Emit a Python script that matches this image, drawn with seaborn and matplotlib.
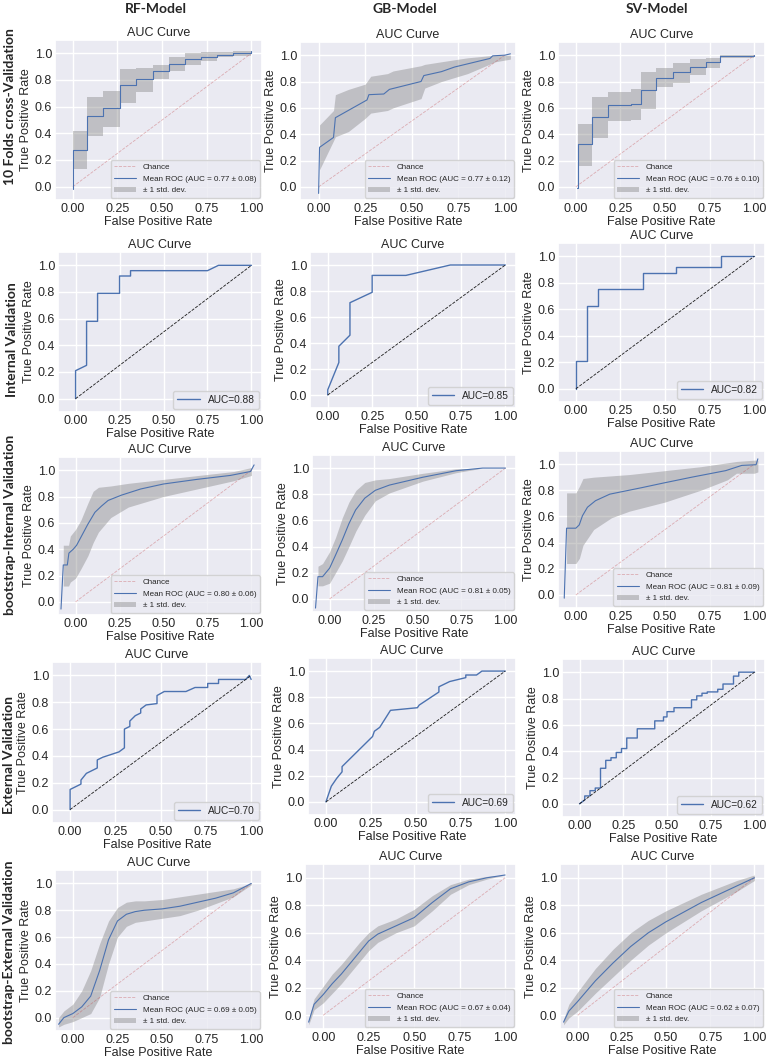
import matplotlib
matplotlib.use("Agg")
import matplotlib.pyplot as plt
import seaborn as sns

# --- titles ---
models = ["RF-Model", "GB-Model", "SV-Model"]
row_names = ["10 Folds cross-Validation", "Internal Validation",
             "bootstrap-Internal Validation", "External Validation",
             "bootstrap-External Validation"]

# --- row 1: 10 folds CV (mean ROC + band) ---
cv_rf_x = [0.0, 0.0, 0.08, 0.17, 0.265, 0.355, 0.45, 0.54, 0.63, 0.72, 0.81, 0.90, 1.0]
cv_rf_y = [-0.02, 0.275, 0.53, 0.59, 0.76, 0.81, 0.865, 0.92, 0.955, 0.975, 0.99, 1.0, 1.02]
cv_rf_bx = [0.0, 0.08, 0.17, 0.265, 0.355, 0.45, 0.54, 0.63, 0.72, 0.81, 0.90, 1.0]
cv_rf_hi = [0.42, 0.67, 0.72, 0.88, 0.89, 0.91, 0.97, 1.0, 1.01, 1.01, 1.02, 1.02]
cv_rf_lo = [0.13, 0.38, 0.45, 0.63, 0.71, 0.81, 0.87, 0.91, 0.94, 0.97, 0.98, 1.0]

cv_gb_x = [0.0, 0.005, 0.08, 0.09, 0.26, 0.27, 0.35, 0.38, 0.55, 0.565, 0.66, 0.73, 0.92, 0.935, 1.0, 1.03]
cv_gb_y = [-0.05, 0.30, 0.375, 0.525, 0.66, 0.70, 0.705, 0.74, 0.80, 0.845, 0.875, 0.91, 0.975, 0.995, 1.0, 1.01]
cv_gb_bx = [0.005, 0.08, 0.09, 0.16, 0.25, 0.28, 0.37, 0.40, 0.55, 0.57, 0.66, 0.80, 0.95, 1.03]
cv_gb_hi = [0.47, 0.58, 0.70, 0.74, 0.78, 0.84, 0.86, 0.88, 0.92, 0.93, 0.95, 0.98, 1.0, 1.0]
cv_gb_lo = [0.13, 0.35, 0.38, 0.42, 0.52, 0.56, 0.58, 0.60, 0.67, 0.75, 0.80, 0.86, 0.95, 0.97]

cv_sv_x = [0.005, 0.01, 0.09, 0.18, 0.31, 0.365, 0.45, 0.545, 0.64, 0.73, 0.81, 1.0]
cv_sv_y = [-0.01, 0.325, 0.53, 0.62, 0.63, 0.735, 0.83, 0.87, 0.91, 0.945, 0.99, 1.0]
cv_sv_bx = [0.01, 0.09, 0.18, 0.31, 0.365, 0.45, 0.545, 0.64, 0.73, 0.81, 1.0]
cv_sv_hi = [0.48, 0.68, 0.72, 0.74, 0.87, 0.90, 0.94, 0.97, 0.98, 1.0, 1.0]
cv_sv_lo = [0.16, 0.37, 0.50, 0.51, 0.59, 0.76, 0.79, 0.85, 0.90, 0.98, 0.98]
cv_auc = ["0.77 ± 0.08", "0.77 ± 0.12", "0.76 ± 0.10"]

# --- row 2: internal validation ROC ---
int_rf_fpr = [0, 0, 0.0625, 0.0625, 0.125, 0.125, 0.25, 0.25, 0.3125, 0.3125, 0.75, 0.8125, 1]
int_rf_tpr = [0, 0.21, 0.25, 0.58, 0.58, 0.79, 0.79, 0.92, 0.92, 0.96, 0.96, 1.0, 1]
int_gb_fpr = [0, 0, 0.0625, 0.0625, 0.125, 0.125, 0.25, 0.25, 0.44, 0.69, 1]
int_gb_tpr = [0, 0.04, 0.25, 0.375, 0.46, 0.71, 0.79, 0.92, 0.92, 1.0, 1]
int_sv_fpr = [0, 0, 0.0625, 0.0625, 0.125, 0.125, 0.375, 0.375, 0.5625, 0.5625, 0.8125, 0.8125, 1]
int_sv_tpr = [0, 0.21, 0.21, 0.625, 0.625, 0.75, 0.75, 0.875, 0.875, 0.92, 0.92, 1.0, 1]
int_auc = ["0.88", "0.85", "0.82"]

# --- row 3: bootstrap internal ---
bi_rf_x = [-0.083, -0.07, -0.047, -0.038, -0.013, 0.006, 0.034, 0.07, 0.11, 0.147, 0.185, 0.26, 0.37, 0.5, 0.69, 0.88, 0.995, 1.015]
bi_rf_y = [-0.055, 0.28, 0.28, 0.37, 0.40, 0.43, 0.50, 0.59, 0.68, 0.727, 0.77, 0.81, 0.857, 0.895, 0.93, 0.96, 0.99, 1.04]
bi_rf_bx = [-0.07, -0.04, -0.03, 0.0, 0.03, 0.07, 0.10, 0.13, 0.2, 0.3, 0.5, 0.7, 0.9, 1.0]
bi_rf_hi = [0.43, 0.43, 0.50, 0.55, 0.62, 0.75, 0.84, 0.87, 0.88, 0.90, 0.93, 0.96, 0.99, 1.02]
bi_rf_lo = [0.12, 0.12, 0.15, 0.18, 0.25, 0.35, 0.45, 0.53, 0.64, 0.72, 0.80, 0.86, 0.92, 0.96]

bi_gb_x = [-0.08, -0.066, -0.04, 0.0, 0.034, 0.072, 0.11, 0.148, 0.2, 0.26, 0.34, 0.53, 0.72, 0.87, 1.0]
bi_gb_y = [-0.07, 0.17, 0.17, 0.235, 0.335, 0.45, 0.575, 0.68, 0.77, 0.83, 0.87, 0.93, 0.98, 1.0, 1.0]
bi_gb_bx = [-0.066, -0.04, 0.0, 0.034, 0.072, 0.11, 0.15, 0.2, 0.26, 0.34, 0.53, 0.72, 0.87, 1.0]
bi_gb_hi = [0.25, 0.27, 0.36, 0.47, 0.62, 0.74, 0.83, 0.89, 0.91, 0.92, 0.96, 0.995, 1.0, 1.0]
bi_gb_lo = [0.10, 0.10, 0.12, 0.20, 0.29, 0.40, 0.52, 0.64, 0.75, 0.81, 0.90, 0.965, 1.0, 1.0]

bi_sv_x = [-0.065, -0.052, 0.0, 0.019, 0.037, 0.065, 0.11, 0.19, 0.37, 0.49, 0.65, 0.84, 0.93, 1.01, 1.02]
bi_sv_y = [-0.025, 0.51, 0.51, 0.535, 0.605, 0.67, 0.72, 0.77, 0.82, 0.855, 0.90, 0.95, 0.99, 0.995, 1.04]
bi_sv_bx = [-0.052, 0.0, 0.02, 0.04, 0.07, 0.1, 0.2, 0.3, 0.5, 0.7, 0.85, 0.9, 1.0, 1.02]
bi_sv_hi = [0.78, 0.78, 0.83, 0.89, 0.895, 0.90, 0.91, 0.92, 0.95, 0.98, 1.01, 1.02, 1.03, 1.03]
bi_sv_lo = [0.24, 0.24, 0.28, 0.38, 0.44, 0.50, 0.59, 0.64, 0.71, 0.80, 0.88, 0.93, 0.93, 0.94]
bi_auc = ["0.80 ± 0.06", "0.81 ± 0.05", "0.81 ± 0.09"]

# --- row 4: external validation ROC ---
ext_rf_fpr = [0, 0, 0.06, 0.06, 0.09, 0.15, 0.15, 0.18, 0.27, 0.30, 0.30, 0.33, 0.33, 0.36, 0.39, 0.39,
              0.42, 0.48, 0.48, 0.52, 0.64, 0.69, 0.76, 0.76, 0.82, 0.82, 0.97, 0.99, 1.0]
ext_rf_tpr = [0, 0.15, 0.19, 0.22, 0.27, 0.31, 0.37, 0.39, 0.43, 0.46, 0.60, 0.62, 0.66, 0.70, 0.72, 0.75,
              0.78, 0.79, 0.85, 0.88, 0.88, 0.91, 0.91, 0.94, 0.94, 0.97, 0.97, 1.0, 0.97]
ext_gb_fpr = [0, 0.03, 0.06, 0.09, 0.09, 0.26, 0.27, 0.30, 0.36, 0.51, 0.52, 0.63, 0.63, 0.69, 0.72,
              0.78, 0.78, 0.84, 0.87, 1.0]
ext_gb_tpr = [0, 0.12, 0.18, 0.23, 0.27, 0.50, 0.54, 0.57, 0.70, 0.72, 0.74, 0.84, 0.88, 0.92, 0.93,
              0.95, 0.97, 0.97, 1.0, 1.0]
ext_sv_fpr = [0, 0.03, 0.03, 0.06, 0.06, 0.09, 0.09, 0.12, 0.12, 0.15, 0.15, 0.18, 0.18, 0.21, 0.21,
              0.24, 0.24, 0.27, 0.27, 0.33, 0.33, 0.43, 0.43, 0.48, 0.48, 0.50, 0.50, 0.54, 0.54,
              0.64, 0.64, 0.67, 0.67, 0.70, 0.70, 0.73, 0.73, 0.79, 0.79, 0.82, 0.82, 0.88, 0.88,
              0.91, 0.91, 1.0]
ext_sv_tpr = [0, 0.03, 0.06, 0.06, 0.10, 0.10, 0.12, 0.12, 0.27, 0.27, 0.33, 0.33, 0.35, 0.35, 0.39,
              0.39, 0.42, 0.42, 0.50, 0.50, 0.57, 0.57, 0.63, 0.63, 0.66, 0.66, 0.70, 0.70, 0.73,
              0.73, 0.79, 0.79, 0.82, 0.82, 0.84, 0.84, 0.85, 0.85, 0.87, 0.87, 0.91, 0.91, 0.97,
              0.97, 1.0, 1.0]
ext_auc = ["0.70", "0.69", "0.62"]

# --- row 5: bootstrap external ---
be_rf_x = [-0.08, -0.05, 0.0, 0.05, 0.1, 0.15, 0.2, 0.25, 0.3, 0.35, 0.4, 0.5, 0.6, 0.7, 0.8, 0.9, 1.0]
be_rf_y = [-0.05, 0.0, 0.03, 0.08, 0.16, 0.35, 0.58, 0.72, 0.77, 0.79, 0.80, 0.81, 0.83, 0.86, 0.89, 0.93, 1.0]
be_rf_hi = [0.0, 0.05, 0.10, 0.20, 0.35, 0.55, 0.72, 0.82, 0.86, 0.87, 0.87, 0.88, 0.90, 0.92, 0.94, 0.96, 1.0]
be_rf_lo = [-0.07, -0.05, -0.03, 0.0, 0.03, 0.15, 0.40, 0.60, 0.68, 0.71, 0.72, 0.74, 0.76, 0.80, 0.85, 0.90, 0.99]

be_gb_x = [-0.08, -0.05, 0.0, 0.05, 0.1, 0.15, 0.2, 0.25, 0.3, 0.4, 0.5, 0.6, 0.7, 0.8, 0.9, 1.0]
be_gb_y = [-0.05, 0.08, 0.15, 0.23, 0.30, 0.38, 0.46, 0.54, 0.59, 0.65, 0.71, 0.82, 0.92, 0.97, 1.0, 1.02]
be_gb_hi = [-0.03, 0.12, 0.21, 0.30, 0.37, 0.45, 0.53, 0.60, 0.65, 0.70, 0.77, 0.87, 0.95, 0.99, 1.01, 1.02]
be_gb_lo = [-0.07, 0.04, 0.09, 0.16, 0.23, 0.31, 0.39, 0.47, 0.53, 0.60, 0.65, 0.76, 0.88, 0.95, 0.99, 1.02]

be_sv_x = [-0.08, -0.05, 0.0, 0.1, 0.2, 0.3, 0.4, 0.5, 0.6, 0.7, 0.8, 0.9, 1.0]
be_sv_y = [-0.05, 0.03, 0.10, 0.25, 0.38, 0.50, 0.60, 0.68, 0.75, 0.82, 0.88, 0.94, 1.0]
be_sv_hi = [-0.03, 0.08, 0.17, 0.34, 0.48, 0.60, 0.69, 0.76, 0.82, 0.88, 0.93, 0.98, 1.02]
be_sv_lo = [-0.07, -0.02, 0.03, 0.16, 0.28, 0.40, 0.51, 0.60, 0.68, 0.76, 0.83, 0.90, 0.98]
be_auc = ["0.69 ± 0.05", "0.67 ± 0.04", "0.62 ± 0.07"]

# --- style ---
sns.set_theme(style="darkgrid")
plt.rcParams["font.family"] = ["Liberation Sans", "DejaVu Sans"]
BLUE = "#4c72b0"
W, H = 767, 1062

fig = plt.figure(figsize=(W / 100, H / 100), dpi=100)

# axes boxes in pixels (left, top, right, bottom)
boxes = [
    [(55, 40, 262, 200), (300, 42, 516, 200), (558, 42, 765, 200)],
    [(58, 252, 262, 412), (310, 252, 516, 408), (558, 243, 765, 402)],
    [(58, 457, 262, 615), (312, 455, 516, 612), (558, 451, 765, 608)],
    [(52, 662, 262, 823), (308, 658, 516, 815), (562, 659, 765, 817)],
    [(55, 870, 262, 1031), (305, 864, 516, 1029), (560, 864, 765, 1029)],
]


def make_ax(box):
    l, t, r, b = box
    ax = fig.add_axes([l / W, 1 - b / H, (r - l) / W, (b - t) / H])
    ax.set_xlim(-0.1, 1.06)
    ax.set_ylim(-0.1, 1.1)
    ax.set_xticks([0, 0.25, 0.5, 0.75, 1.0])
    ax.set_yticks([0, 0.2, 0.4, 0.6, 0.8, 1.0])
    ax.xaxis.set_major_formatter("{x:.2f}")
    ax.yaxis.set_major_formatter("{x:.1f}")
    ax.tick_params(labelsize=9, pad=2, length=0)
    ax.set_title("AUC Curve", fontsize=9, pad=3)
    ax.set_xlabel("False Positive Rate", fontsize=9, labelpad=1)
    ax.set_ylabel("True Positive Rate", fontsize=9, labelpad=2)
    return ax


def mean_roc(ax, x, y, bx, lo, hi, auc, step=False):
    ax.plot([0, 1], [0, 1], ls="--", lw=0.6, color="r", alpha=0.4, label="Chance")
    kw = dict(drawstyle="steps-post") if step else {}
    sns.lineplot(x=x, y=y, ax=ax, estimator=None, sort=False, color=BLUE, lw=0.8,
                 label=f"Mean ROC (AUC = {auc})", **kw)
    ax.fill_between(bx, lo, hi, color="grey", alpha=0.4, lw=0,
                    step="post" if step else None, label="± 1 std. dev.")
    ax.legend(loc="lower right", fontsize=5.8, framealpha=0.8, handlelength=2.8,
              borderaxespad=0.3)


def single_roc(ax, fpr, tpr, auc):
    sns.lineplot(x=fpr, y=tpr, ax=ax, estimator=None, sort=False, color=BLUE, lw=1,
                 label=f"AUC={auc}")
    ax.plot([0, 1], [0, 1], "k--", lw=0.6)
    ax.legend(loc="lower right", fontsize=7.3, handlelength=2.2, borderaxespad=0.3)


cv_sets = [(cv_rf_x, cv_rf_y, cv_rf_bx, cv_rf_lo, cv_rf_hi, True),
           (cv_gb_x, cv_gb_y, cv_gb_bx, cv_gb_lo, cv_gb_hi, False),
           (cv_sv_x, cv_sv_y, cv_sv_bx, cv_sv_lo, cv_sv_hi, True)]
int_sets = [(int_rf_fpr, int_rf_tpr), (int_gb_fpr, int_gb_tpr), (int_sv_fpr, int_sv_tpr)]
bi_sets = [(bi_rf_x, bi_rf_y, bi_rf_bx, bi_rf_lo, bi_rf_hi),
           (bi_gb_x, bi_gb_y, bi_gb_bx, bi_gb_lo, bi_gb_hi),
           (bi_sv_x, bi_sv_y, bi_sv_bx, bi_sv_lo, bi_sv_hi)]
ext_sets = [(ext_rf_fpr, ext_rf_tpr), (ext_gb_fpr, ext_gb_tpr), (ext_sv_fpr, ext_sv_tpr)]
be_sets = [(be_rf_x, be_rf_y, be_rf_lo, be_rf_hi),
           (be_gb_x, be_gb_y, be_gb_lo, be_gb_hi),
           (be_sv_x, be_sv_y, be_sv_lo, be_sv_hi)]

for j in range(3):
    x, y, bx, lo, hi, st = cv_sets[j]
    mean_roc(make_ax(boxes[0][j]), x, y, bx, lo, hi, cv_auc[j], step=st)

    single_roc(make_ax(boxes[1][j]), *int_sets[j], int_auc[j])

    x, y, bx, lo, hi = bi_sets[j]
    mean_roc(make_ax(boxes[2][j]), x, y, bx, lo, hi, bi_auc[j])

    single_roc(make_ax(boxes[3][j]), *ext_sets[j], ext_auc[j])

    x, y, lo, hi = be_sets[j]
    mean_roc(make_ax(boxes[4][j]), x, y, x, lo, hi, be_auc[j])

# --- column headers and row labels ---
head_font = dict(fontsize=10, fontweight="bold", family=["Lato", "DejaVu Sans"])
for name, xc in zip(models, [156, 405, 657]):
    fig.text(xc / W, 1 - 9 / H, name, ha="center", va="center", **head_font)

for name, (xc, yc) in zip(row_names, [(10, 107), (12, 340), (10, 525), (9, 755), (9, 952)]):
    fig.text(xc / W, 1 - yc / H, name, ha="center", va="center", rotation=90, **head_font)

fig.savefig("out.png", dpi=100)
